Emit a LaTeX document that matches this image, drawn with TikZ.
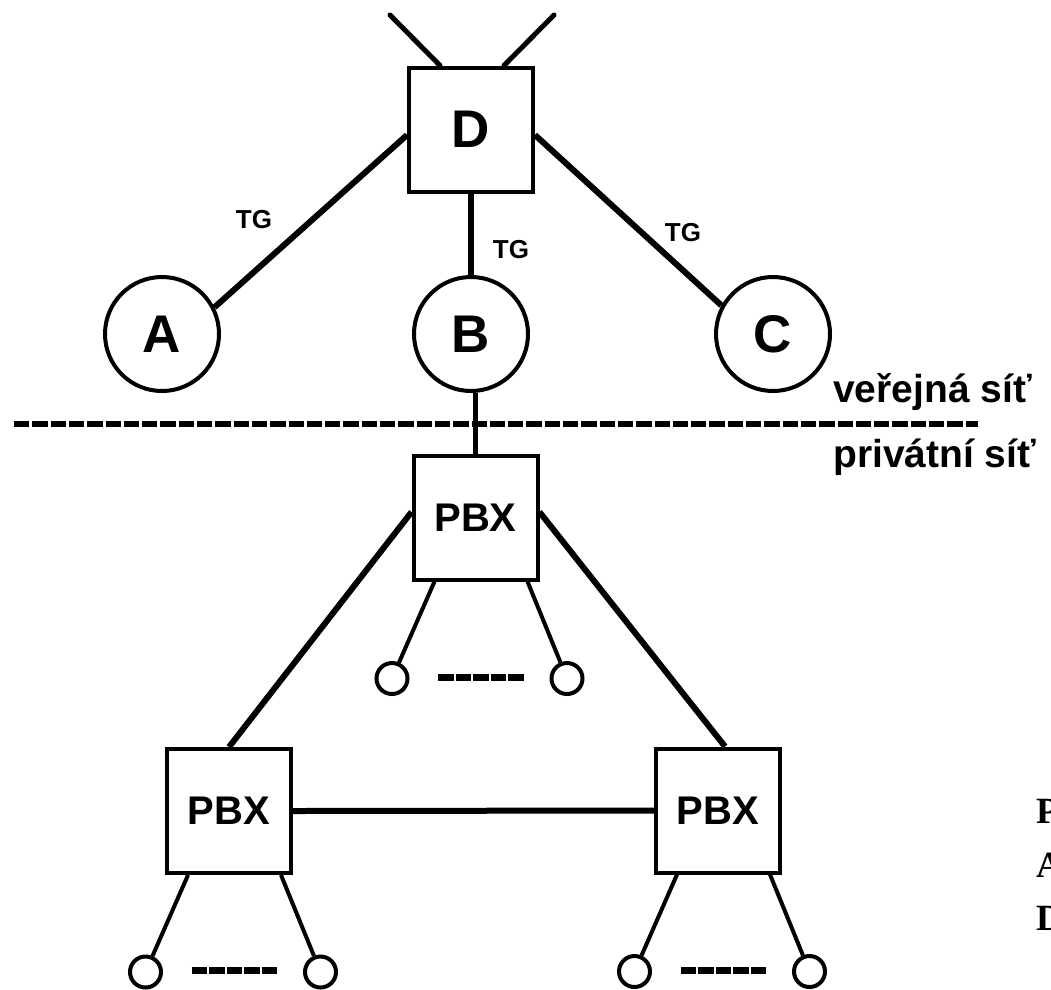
\documentclass[tikz,border=0pt]{standalone}
\usepackage{fontspec}
\setmainfont{Liberation Sans}
\newfontfamily\serifbold{Liberation Serif}
\begin{document}
\begin{tikzpicture}[x=1pt,y=-1pt,
  box/.style={draw,line width=4pt,rectangle,minimum width=124pt,minimum height=124pt,inner sep=0pt,
    font=\fontsize{40}{44}\selectfont\bfseries},
  exch/.style={draw,line width=4pt,circle,minimum size=114pt,inner sep=0pt,
    font=\fontsize{53}{58}\selectfont\bfseries},
  phone/.style={draw,line width=4pt,circle,minimum size=31pt,inner sep=0pt},
  trunk/.style={line width=6pt},
  leg/.style={line width=4pt},
  tg/.style={font=\fontsize{26}{30}\selectfont\bfseries,inner sep=0pt},
  zone/.style={font=\fontsize{39}{43}\selectfont\bfseries,inner sep=0pt,anchor=base west},
  sidelbl/.style={font=\serifbold\fontsize{37}{40}\selectfont\bfseries,inner sep=0pt,anchor=base west},
  dots/.style={line width=7pt,dash pattern=on 15.6pt off 1.9pt}
]
\useasboundingbox (0,0) rectangle (1051,989);

% public network
\node[box,font=\fontsize{53}{58}\selectfont\bfseries] (D) at (471,129.5) {D};
\node[exch] (A) at (162,334) {A};
\node[exch] (B) at (471,334) {B};
\node[exch] (C) at (773,334) {C};

\coordinate (antL) at (390,15);
\coordinate (antR) at (554,15);
\draw[line width=5pt,line cap=round] (antL) -- ([xshift=-31pt]D.north);
\draw[line width=5pt,line cap=round] (antR) -- ([xshift=33pt]D.north);

\draw[trunk] ([yshift=-5.5pt]D.west) -- (A.27);
\draw[trunk] ([yshift=-5.5pt]D.east) -- (C.151);
\draw[trunk] (D.south) -- (B.north);

\node[tg] (tgA) at (254,220) {TG};
\node[tg] (tgB) at (511,250) {TG};
\node[tg] (tgC) at (683,233) {TG};

% boundary between public and private network
\coordinate (sepL) at (14,424);
\coordinate (sepR) at (978,424);
\draw[line width=5.5pt,dash pattern=on 15.3pt off 3pt] (sepL) -- (sepR);
\node[zone] (pub) at (833,402) {veřejná síť};
\node[zone] (priv) at (833,467) {privátní síť};

% private network
\node[box] (P1) at (475.5,517.5) {PBX};
\node[box] (P2) at (229,811) {PBX};
\node[box] (P3) at (718,810.5) {PBX};

\draw[line width=5.5pt] (P1.north) -- (P1.north |- B.south);
\draw[trunk] ([yshift=5.5pt]P1.west) -- (P2.north);
\draw[trunk] ([yshift=5.5pt]P1.east) -- ([xshift=7pt]P3.north);
\draw[trunk] (P2.east) -- (P3.west);

% subscriber lines of each PBX
\foreach \p in {P1,P2,P3}{
  \node[phone] (\p-l) at ([xshift=-83.5pt,yshift=-161pt]\p.center) {};
  \node[phone] (\p-r) at ([xshift=91.5pt,yshift=-161pt]\p.center) {};
  \draw[leg] ([xshift=-41pt]\p.south) -- (\p-l);
  \draw[leg] ([xshift=52pt]\p.south) -- (\p-r);
  \coordinate (\p-d1) at ([xshift=-37.5pt,yshift=-159.5pt]\p.center);
  \coordinate (\p-d2) at ([xshift=48.5pt,yshift=-159.5pt]\p.center);
  \draw[dots] (\p-d1) -- (\p-d2);
}

% legend at the right edge
\node[sidelbl] (lp) at (1036,823) {P};
\node[sidelbl] (la) at (1036,877) {A};
\node[sidelbl] (ld) at (1036,930) {D};
\end{tikzpicture}
\end{document}
